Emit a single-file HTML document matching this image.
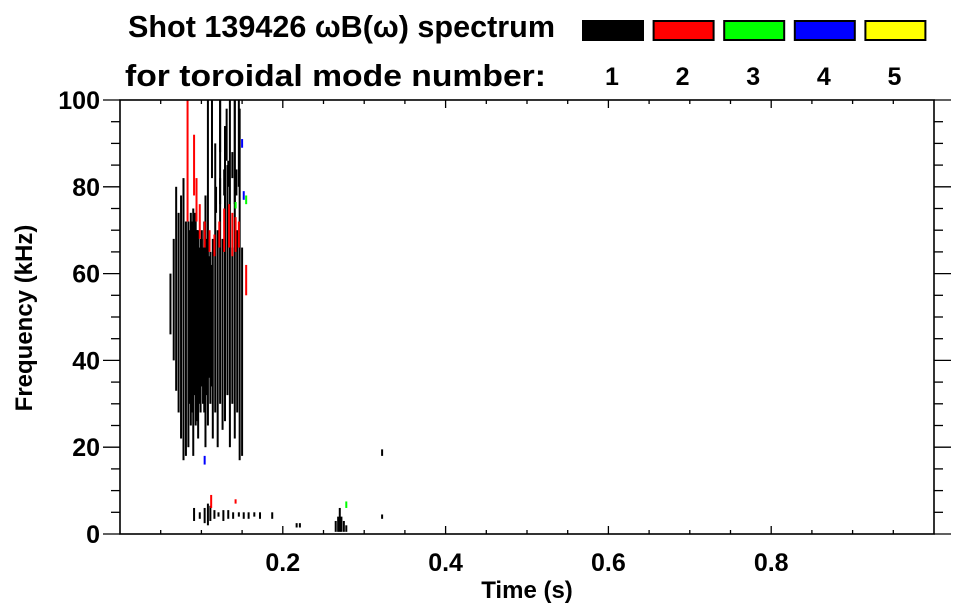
<!DOCTYPE html>
<html><head><meta charset="utf-8"><style>
html,body{margin:0;padding:0;background:#fff;}
svg{display:block;font-family:"Liberation Sans",sans-serif;font-weight:bold;}
</style></head><body>
<svg id="chart" width="963" height="615" viewBox="0 0 963 615">
<text x="128" y="37" font-size="31" textLength="427" lengthAdjust="spacingAndGlyphs">Shot 139426 ωB(ω) spectrum</text>
<text x="125" y="86" font-size="31" textLength="421" lengthAdjust="spacingAndGlyphs">for toroidal mode number:</text>
<g id="legend"></g>
<g id="marks"></g>
<g id="axes"></g>
<text x="527" y="598" font-size="24" text-anchor="middle">Time (s)</text>
<text transform="translate(32,318) rotate(-90)" font-size="24" text-anchor="middle">Frequency (kHz)</text>
</svg>
<script>
const modeNumbers=[1,2,3,4,5];
const modeColors=["#000000","#ff0000","#00ff00","#0000ff","#ffff00"];
const xTicks=[0.2,0.4,0.6,0.8];
const yTicks=[0,20,40,60,80,100];
// streaks: time (s), freq low, freq high (kHz), mode index
const segT=[.062,.066,.069,.072,.075,.078,.081,.084,.087,.090,.093,.096,.099,.102,.105,.108,.111,.114,.117,.120,.123,.126,.129,.132,.135,.138,.141,.144,.147,.150,
.0855,.0885,.0915,.0945,.0975,.1005,.1035,.1065,.1095,.1125,.0885,.0915,.0945,.1005,.1065,
.113,.123,.131,.141,.146,.118,.123,.128,.133,.138,.143,
.091,.098,.104,.108,.111,.116,.121,.127,.133,.139,.146,.152,.158,.165,.172,.187,.217,.221,.265,.268,.270,.272,.275,.278,.322,.322,
.083,.091,.094,.098,.104,.110,.116,.122,.128,.134,.138,.142,.146,.155,.112,.142,
.142,.155,.278,.104,.150,.152];
const segF0=[46,40,33,28,22,17,18,20,25,18,25,22,28,30,20,25,30,22,28,20,30,24,26,32,20,30,22,28,17,18,
30,28,32,26,30,34,28,32,36,34,55,50,60,58,52,
82,88,86,76,80,74,76,78,80,82,78,
3,3.5,2.5,2,3,3.5,4,3,3.5,3.5,4,3.5,3.5,4,3.5,3.5,1.5,1.5,0.5,0.5,0.5,0.5,0.5,0.5,3.5,18,
72,78,72,68,66,65,64,66,65,66,64,65,66,55,6,7,
75,76,6,16,89,77];
const segF1=[60,68,80,74,78,82,72,72,74,75,72,70,68,66,78,100,65,68,90,70,100,68,94,85,100,66,100,70,98,66,
70,72,68,70,66,68,72,66,64,62,72,74,70,70,68,
100,100,98,100,100,80,82,84,86,88,84,
6,5,6,7,6.5,5.5,5,5.5,5.5,5,5,5,5,5,5,5,2.5,2.5,3,4,6,4,3,2,4.5,19.5,
100,92,82,76,72,70,69,72,75,76,74,73,72,62,9,8,
76.5,78,7.5,18,91,79];
const segMode=[0,0,0,0,0,0,0,0,0,0,0,0,0,0,0,0,0,0,0,0,0,0,0,0,0,0,0,0,0,0,
0,0,0,0,0,0,0,0,0,0,0,0,0,0,0,
0,0,0,0,0,0,0,0,0,0,0,
0,0,0,0,0,0,0,0,0,0,0,0,0,0,0,0,0,0,0,0,0,0,0,0,0,0,
1,1,1,1,1,1,1,1,1,1,1,1,1,1,1,1,
2,2,2,3,3,3];
const X0=120,X1=934,Y0=534,Y1=100;
const xs=t=>X0+(X1-X0)*t/1.0;
const ys=f=>Y0-(Y0-Y1)*f/100;
const NS="http://www.w3.org/2000/svg";
function mk(tag,attrs,parent){const e=document.createElementNS(NS,tag);for(const k in attrs)e.setAttribute(k,attrs[k]);parent.appendChild(e);return e;}
const marks=document.getElementById('marks');
for(let i=0;i<segT.length;i++){
  const y0=ys(segF1[i]),y1=ys(segF0[i]);
  const r=mk('rect',{x:xs(segT[i])-1,y:y0,width:2,height:Math.max(1,y1-y0),fill:modeColors[segMode[i]]},marks);
  
  
}
const axes=document.getElementById('axes');
const fr=mk('rect',{x:X0,y:Y1,width:X1-X0,height:Y0-Y1,fill:'none',stroke:'#000','stroke-width':1.6},axes);


for(let v=0.05;v<1.0;v+=0.05){
  const x=xs(v);const major=Math.abs(v*5-Math.round(v*5))<1e-6;const L=major?8:4;
  mk('line',{x1:x,x2:x,y1:Y0,y2:Y0-L,stroke:'#000','stroke-width':1.3},axes);
  mk('line',{x1:x,x2:x,y1:Y1,y2:Y1+L,stroke:'#000','stroke-width':1.3},axes);
}
xTicks.forEach(v=>{const t=mk('text',{x:xs(v),y:Y0+37,'font-size':25,'text-anchor':'middle'},axes);t.textContent=v.toFixed(1);
  
  });
for(let v=0;v<=100;v+=5){
  const y=ys(v);const L=(v%20===0)?17:9;
  mk('line',{x1:X0,x2:X0-L,y1:y,y2:y,stroke:'#000','stroke-width':1.3},axes);
  mk('line',{x1:X1,x2:X1+L,y1:y,y2:y,stroke:'#000','stroke-width':1.3},axes);
}
yTicks.forEach(v=>{const t=mk('text',{x:100,y:ys(v)+9,'font-size':25,'text-anchor':'end'},axes);t.textContent=v;
  
  });
const lg=document.getElementById('legend');
modeNumbers.forEach((m,i)=>{
  const x=582+i*70.6;
  const r=mk('rect',{x:x+1,y:21,width:60,height:19,fill:modeColors[i],stroke:'#000','stroke-width':2},lg);
  
  
  const t=mk('text',{x:x+30,y:85,'font-size':25,'text-anchor':'middle'},lg);t.textContent=m;
  
  
});
</script>
</body></html>
